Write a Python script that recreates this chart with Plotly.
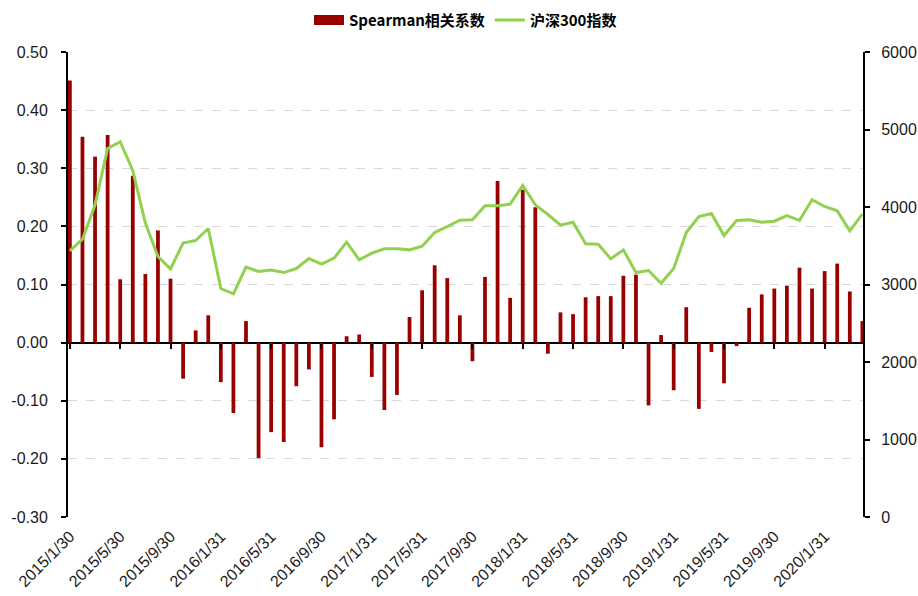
import plotly.graph_objects as go

# Categories: month ends from 2015/1 to 2020/4
months = [f"{y}/{m}" for y in range(2015, 2021) for m in range(1, 13)][:64]

tick_labels = ["2015/1/30", "2015/5/30", "2015/9/30", "2016/1/31", "2016/5/31",
               "2016/9/30", "2017/1/31", "2017/5/31", "2017/9/30", "2018/1/31",
               "2018/5/31", "2018/9/30", "2019/1/31", "2019/5/31", "2019/9/30",
               "2020/1/31"]

left_ticks = [-0.3, -0.2, -0.1, 0.0, 0.1, 0.2, 0.3, 0.4, 0.5]
left_tick_text = ["-0.30", "-0.20", "-0.10", "0.00", "0.10", "0.20", "0.30", "0.40", "0.50"]

spearman = [0.451, 0.354, 0.320, 0.357, 0.109, 0.287, 0.118, 0.193, 0.110, -0.062,
            0.021, 0.047, -0.068, -0.121, 0.037, -0.199, -0.154, -0.171, -0.075, -0.046,
            -0.180, -0.132, 0.011, 0.014, -0.059, -0.116, -0.090, 0.044, 0.090, 0.133,
            0.111, 0.047, -0.032, 0.113, 0.278, 0.077, 0.263, 0.233, -0.019, 0.052,
            0.049, 0.078, 0.080, 0.080, 0.115, 0.117, -0.108, 0.013, -0.082, 0.061,
            -0.114, -0.016, -0.070, -0.006, 0.060, 0.083, 0.093, 0.098, 0.129, 0.093,
            0.123, 0.136, 0.088, 0.037]

hs300 = [3434, 3585, 4028, 4756, 4842, 4472, 3792, 3361, 3202, 3534,
         3568, 3723, 2948, 2879, 3224, 3168, 3188, 3154, 3206, 3335,
         3262, 3340, 3546, 3318, 3404, 3460, 3460, 3447, 3494, 3671,
         3748, 3830, 3834, 4015, 4015, 4037, 4278, 4028, 3903, 3765,
         3804, 3525, 3520, 3331, 3447, 3154, 3180, 3016, 3206, 3671,
         3877, 3916, 3632, 3826, 3834, 3804, 3817, 3890, 3826, 4093,
         4007, 3951, 3692, 3908]

tick_vals = months[::4]

font_family = "Liberation Sans, Arial, sans-serif"
cjk_family = "Noto Sans CJK SC, sans-serif"
bar_color = "#990000"
line_color = "#92D050"
text_color = "#1a1a1a"

fig = go.Figure()
fig.add_trace(go.Bar(x=months, y=spearman, name="Spearman相关系数",
                     marker=dict(color=bar_color, line=dict(width=0)),
                     yaxis="y", xaxis="x", showlegend=False))
# legend stand-in for the bar series (wide rectangle swatch)
fig.add_trace(go.Scatter(x=[months[0]], y=[None], name="Spearman相关系数", mode="lines",
                         line=dict(color=bar_color, width=10),
                         yaxis="y", xaxis="x", hoverinfo="skip"))
fig.add_trace(go.Scatter(x=months, y=hs300, name="沪深300指数", mode="lines",
                         line=dict(color=line_color, width=3),
                         yaxis="y2", xaxis="x"))
# invisible trace to activate the tick-mark axis at the zero line
fig.add_trace(go.Scatter(x=months, y=[None] * len(months), xaxis="x2", yaxis="y",
                         showlegend=False, hoverinfo="skip"))

xr = [-0.15, 63.05]

fig.update_layout(
    width=918, height=596,
    margin=dict(l=68, r=55, t=52, b=79, autoexpand=False),
    plot_bgcolor="white", paper_bgcolor="white",
    bargap=0.7,
    showlegend=True,
    legend=dict(orientation="h", x=0.5, xanchor="center", y=0.966, yanchor="middle",
                yref="container",
                font=dict(family=cjk_family, size=15, color="#000000", weight="bold"),
                traceorder="normal", itemwidth=30),
    xaxis=dict(type="category", range=xr, tickmode="array", tickvals=tick_vals,
               ticktext=tick_labels, tickangle=-45, showgrid=False, showline=False,
               ticks="", zeroline=False, automargin=False, ticklabelstandoff=6,
               tickfont=dict(family=font_family, size=16, color=text_color)),
    xaxis2=dict(type="category", range=xr, overlaying="x", anchor="free",
                position=0.375, tickmode="array", tickvals=tick_vals,
                ticks="outside", ticklen=5, tickwidth=2, tickcolor="black",
                showticklabels=False, showline=False, showgrid=False, zeroline=False),
    yaxis=dict(range=[-0.3, 0.5], tickmode="array", tickvals=left_ticks,
               ticktext=left_tick_text, showgrid=True,
               gridcolor="#d9d9d9", griddash="dash", gridwidth=1,
               showline=True, linecolor="black", linewidth=2,
               ticks="outside", ticklen=5, tickwidth=2, tickcolor="black",
               ticklabelstandoff=10, automargin=False,
               zeroline=True, zerolinecolor="black", zerolinewidth=2,
               tickfont=dict(family=font_family, size=16, color=text_color)),
    yaxis2=dict(range=[0, 6000], dtick=1000, overlaying="y", side="right",
                showgrid=False, zeroline=False, showline=True, linecolor="black",
                linewidth=2, ticks="outside", ticklen=5, tickwidth=2, tickcolor="black",
                ticklabelstandoff=8, automargin=False,
                tickfont=dict(family=font_family, size=16, color=text_color)),
)

fig.write_html("out.html", config={"displayModeBar": False},
               post_script="document.body.style.margin='0';")
